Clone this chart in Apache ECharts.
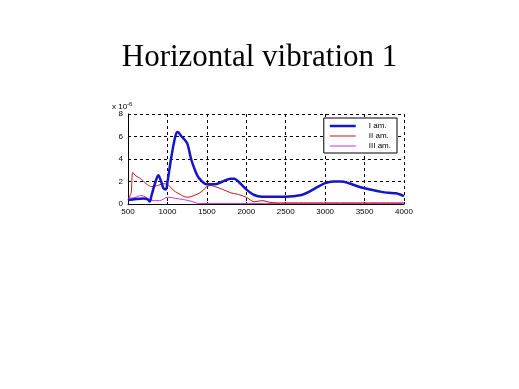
<!DOCTYPE html>
<html><head><meta charset="utf-8">
<script src="https://cdn.jsdelivr.net/npm/echarts@6/dist/echarts.min.js"></script>
<style>html,body{margin:0;padding:0;background:#fff}#c{width:519px;height:389px}</style>
</head><body><div id="c"></div>
<script>
const titleText = 'Horizontal vibration 1';
const seriesNames = ['I am.', 'II am.', 'III am.'];
const xTicks = [500, 1000, 1500, 2000, 2500, 3000, 3500, 4000];
const yTicks = [0, 2, 4, 6, 8];
const blueData = [[500,0.35],[600,0.45],[700,0.5],[750,0.4],[775,0.22],[800,0.8],[850,2.0],[885,2.55],[920,2.0],[950,1.4],[980,1.3],[1000,1.9],[1050,4.2],[1100,6.0],[1130,6.4],[1180,6.0],[1250,5.4],[1300,4.0],[1350,3.0],[1400,2.3],[1500,1.75],[1600,1.75],[1700,2.0],[1800,2.25],[1850,2.25],[1900,2.0],[2000,1.3],[2100,0.8],[2200,0.65],[2500,0.65],[2700,0.8],[2800,1.1],[2900,1.5],[3000,1.85],[3100,2.0],[3200,2.0],[3300,1.85],[3400,1.6],[3500,1.4],[3600,1.25],[3700,1.1],[3800,1.0],[3900,0.95],[4000,0.7]];
const redData = [[500,0.4],[540,1.0],[560,2.8],[600,2.5],[650,2.3],[700,2.0],[750,1.7],[800,1.55],[850,1.6],[900,1.7],[950,1.8],[1000,1.75],[1050,1.4],[1100,1.1],[1150,0.9],[1200,0.7],[1250,0.6],[1300,0.65],[1400,0.95],[1450,1.2],[1500,1.55],[1550,1.65],[1600,1.55],[1700,1.3],[1800,1.0],[1900,0.85],[2000,0.6],[2100,0.2],[2200,0.3],[2300,0.15],[2400,0.1],[4000,0.1]];
const magentaData = [[500,0.5],[600,0.6],[660,0.75],[700,0.7],[750,0.5],[800,0.3],[900,0.3],[1000,0.6],[1020,0.6],[1100,0.5],[1200,0.4],[1300,0.25],[1400,0.05],[4000,0.05]];

const colors = ['#1515c8', '#c01818', '#d030d0'];
// legend icon paths: a bar inside an 26x8 box (tiny corner dots fix the bounding box)
const iconThick = 'path://M0,0h0.01v0.01h-0.01z M0,8h0.01v0.01h-0.01z M0,2.7h26v2.6h-26z';
const iconThin = 'path://M0,0h0.01v0.01h-0.01z M0,8h0.01v0.01h-0.01z M0,3.5h26v1h-26z';

const chart = echarts.init(document.getElementById('c'), null, {renderer:'canvas'});
const labelFont = {fontFamily:'Liberation Sans', fontSize:8, color:'#000'};
chart.setOption({
  animation:false,
  backgroundColor:'#fff',
  title:{text:titleText, left:'center', top:37, textStyle:{fontFamily:'Liberation Serif', fontSize:31, fontWeight:'normal', color:'#000'}},
  grid:{left:128, right:115, top:114, bottom:185},
  legend:{
    orient:'vertical', right:122, top:118,
    data:[
      {name:seriesNames[0], icon:iconThick},
      {name:seriesNames[1], icon:iconThin},
      {name:seriesNames[2], icon:iconThin}
    ],
    backgroundColor:'#fff', borderColor:'#000', borderWidth:1, padding:[4,6,3,6],
    itemWidth:26, itemHeight:8, itemGap:2,
    textStyle:{fontFamily:'Liberation Sans', fontSize:8, color:'#000', padding:[0,0,0,8]}
  },
  xAxis:{type:'value', min:500, max:4000, interval:500,
    axisLine:{lineStyle:{color:'#000', width:1}}, axisTick:{inside:true, length:2, lineStyle:{color:'#000'}},
    axisLabel:Object.assign({margin:4, formatter:v=>xTicks.includes(v)?String(v):''}, labelFont),
    splitLine:{show:true, lineStyle:{color:'#000', type:[3,3], width:1}}},
  yAxis:{type:'value', min:0, max:8, interval:2,
    axisLine:{show:true, lineStyle:{color:'#000', width:1}}, axisTick:{show:true, inside:true, length:2, lineStyle:{color:'#000'}},
    axisLabel:Object.assign({margin:5, formatter:v=>yTicks.includes(v)?String(v):''}, labelFont),
    splitLine:{show:true, lineStyle:{color:'#000', type:[3,3], width:1}}},
  graphic:[
    {type:'text', left:112, top:101, style:{text:'{a|x 10}{b|-6}', rich:{a:{fontFamily:'Liberation Sans', fontSize:8, fill:'#000'}, b:{fontFamily:'Liberation Sans', fontSize:6, fill:'#000', verticalAlign:'top', padding:[0,0,6,0]}}}}
  ],
  series:[
    {name:seriesNames[0], type:'line', data:blueData, smooth:0.3, symbol:'none', lineStyle:{color:colors[0], width:2.5}, itemStyle:{color:colors[0]}, z:3},
    {name:seriesNames[1], type:'line', data:redData, smooth:0.3, symbol:'none', lineStyle:{color:colors[1], width:1}, itemStyle:{color:colors[1]}, z:2},
    {name:seriesNames[2], type:'line', data:magentaData, smooth:0.3, symbol:'none', lineStyle:{color:colors[2], width:1}, itemStyle:{color:colors[2]}, z:1}
  ]
});
</script></body></html>
